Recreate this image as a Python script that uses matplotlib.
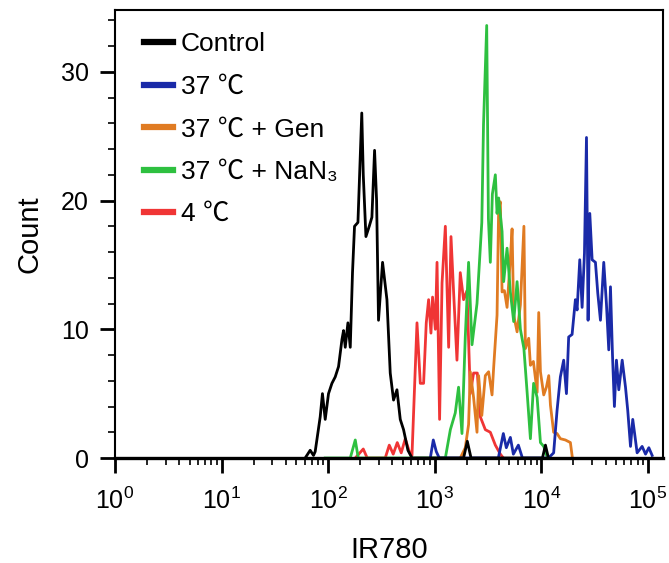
import numpy as np
import matplotlib
matplotlib.use('Agg')
import matplotlib.pyplot as plt

plt.rcParams['font.family'] = ['Liberation Sans', 'Noto Sans CJK SC', 'DejaVu Sans']

# histogram points: log10(IR780) and count
ctrl_log = [1.784, 1.831, 1.862, 1.878, 1.925, 1.946, 1.972, 2.003, 2.035, 2.066, 2.097,
            2.129, 2.144, 2.160, 2.185, 2.207, 2.228, 2.247, 2.279, 2.315, 2.329, 2.354,
            2.385, 2.410, 2.435, 2.454, 2.472, 2.510, 2.551, 2.582, 2.613, 2.645, 2.676,
            2.707, 2.748, 2.786, 3.270, 3.305, 3.340, 4.010, 4.038, 4.066]
ctrl_cnt = [0, 0.6, 0.2, 0.5, 3.2, 5.0, 3.0, 5.0, 5.8, 6.3, 7.1,
            9.2, 9.9, 8.6, 10.5, 8.6, 14.4, 18.0, 18.3, 26.8, 22.0, 17.2,
            18.0, 18.7, 23.9, 20.0, 10.7, 15.2, 12.3, 6.6, 4.5, 5.3, 3.0,
            2.2, 0.6, 0, 0, 1.3, 0, 0, 1.0, 0]

c37_log = [2.958, 2.986, 3.014, 3.042, 3.596, 3.643, 3.671, 3.709, 3.737, 3.784, 3.822,
           4.066, 4.115, 4.147, 4.178, 4.209, 4.235, 4.256, 4.288, 4.319, 4.335, 4.360,
           4.382, 4.404, 4.423, 4.438, 4.454, 4.476, 4.507, 4.529, 4.554, 4.585, 4.610,
           4.632, 4.648, 4.667, 4.685, 4.704, 4.726, 4.758, 4.789, 4.810, 4.836, 4.857,
           4.873, 4.898, 4.945, 4.977, 5.008, 5.039]
c37_cnt = [0, 1.4, 0.5, 0, 0, 1.9, 0.8, 1.6, 0.3, 1.0, 0,
           0, 0.4, 3.7, 6.3, 7.6, 5.0, 9.4, 9.6, 12.3, 11.5, 15.4,
           11.7, 15.9, 24.9, 10.7, 19.0, 15.4, 15.2, 12.8, 10.7, 15.2, 12.0,
           8.4, 13.3, 8.0, 4.0, 7.6, 5.3, 7.6, 5.5, 3.7, 0.9, 3.0,
           2.0, 0.4, 0.9, 0.3, 0.8, 0.2]

gen_log = [3.239, 3.286, 3.317, 3.333, 3.364, 3.396, 3.411, 3.441, 3.474, 3.505, 3.537,
           3.552, 3.584, 3.599, 3.615, 3.631, 3.653, 3.678, 3.709, 3.725, 3.740, 3.772,
           3.803, 3.836, 3.850, 3.881, 3.897, 3.925, 3.960, 3.975, 3.991, 4.022, 4.047,
           4.069, 4.085, 4.115, 4.147, 4.178, 4.225, 4.272, 4.291]
gen_cnt = [0, 0.8, 2.6, 6.7, 4.7, 2.0, 6.4, 3.3, 6.4, 6.7, 4.9,
           7.0, 11.1, 19.4, 19.9, 12.9, 13.0, 11.7, 15.5, 17.8, 11.1, 9.8,
           11.9, 18.0, 8.5, 9.3, 7.2, 7.5, 5.1, 11.3, 6.7, 4.9, 5.5,
           6.4, 4.1, 2.0, 1.9, 1.5, 1.4, 1.2, 0]

nan3_log = [1.972, 2.207, 2.254, 2.282, 3.099, 3.146, 3.192, 3.223, 3.255, 3.286, 3.317,
            3.349, 3.396, 3.441, 3.457, 3.487, 3.503, 3.521, 3.540, 3.568, 3.584, 3.599,
            3.631, 3.646, 3.678, 3.709, 3.740, 3.772, 3.803, 3.836, 3.867, 3.897, 3.927,
            3.960, 3.991, 4.022, 4.056]
nan3_cnt = [0, 0, 1.4, 0, 0, 2.2, 3.5, 5.5, 1.9, 9.4, 15.2,
            8.8, 12.0, 18.3, 25.9, 33.6, 18.6, 15.2, 20.5, 22.0, 19.0, 20.2,
            17.6, 13.7, 16.3, 12.9, 10.6, 13.7, 10.0, 8.5, 5.0, 1.5, 5.8,
            4.7, 1.2, 0.9, 0]

c4_log = [2.254, 2.329, 2.366, 2.535, 2.573, 2.610, 2.648, 2.685, 2.723, 2.761, 2.786,
          2.833, 2.864, 2.895, 2.920, 2.942, 2.964, 2.979, 3.005, 3.021, 3.045, 3.068,
          3.099, 3.130, 3.152, 3.177, 3.208, 3.239, 3.270, 3.302, 3.333, 3.364, 3.399,
          3.427, 3.474, 3.521, 3.568, 3.615, 3.643]
c4_cnt = [0, 0.7, 0, 0, 1.0, 0.3, 1.2, 0.4, 1.5, 0.5, 0.2,
          10.5, 5.8, 5.8, 10.5, 12.3, 9.7, 12.5, 10.0, 15.2, 3.0, 13.6,
          18.0, 8.6, 17.2, 12.8, 7.6, 14.4, 12.3, 13.0, 5.0, 6.6, 6.6,
          3.2, 2.2, 2.0, 1.0, 0.3, 0]

labels = ['Control', '37 ℃', '37 ℃ + Gen', '37 ℃ + NaN₃', '4 ℃']
colors = ['#000000', '#1a2aa8', '#e07b22', '#2ec040', '#f03535']
series = [(ctrl_log, ctrl_cnt), (c37_log, c37_cnt), (gen_log, gen_cnt),
          (nan3_log, nan3_cnt), (c4_log, c4_cnt)]

fig = plt.figure(figsize=(6.69, 5.63), dpi=100)
ax = fig.add_axes([0.1719, 0.1865, 0.819, 0.7957])

lines = [None] * 5
for i in [4, 2, 3, 1, 0]:
    lg, cn = series[i]
    lines[i], = ax.plot(10 ** np.array(lg), cn, color=colors[i], lw=2.0,
                        clip_on=False, label=labels[i])

ax.set_xscale('log')
ax.set_xlim(1, 10 ** 5.14)
ax.set_ylim(0, 34.8)
ax.set_yticks([0, 10, 20, 30])
ax.set_yticks(np.arange(0, 35, 2), minor=True)
ax.set_xticks([1, 10, 100, 1000, 10000, 100000])

for s in ax.spines.values():
    s.set_linewidth(1.5)
ax.spines['bottom'].set_linewidth(2.4)
ax.tick_params(which='major', length=11, width=2, labelsize=18, direction='out')
ax.tick_params(which='minor', length=5, width=1.2, direction='out')
ax.tick_params(axis='y', pad=8)
ax.tick_params(axis='x', pad=10)

ax.set_xlabel('IR780', fontsize=21, labelpad=16)
ax.set_ylabel('Count', fontsize=21, labelpad=12)

leg = ax.legend(handles=lines, loc='upper left', bbox_to_anchor=(0.053, 0.95),
                frameon=False, fontsize=19, handlelength=1.1, handletextpad=0.3,
                labelspacing=0.7, borderpad=0, borderaxespad=0)
for l in leg.get_lines():
    l.set_linewidth(4.5)

plt.savefig('out.png', dpi=100)
